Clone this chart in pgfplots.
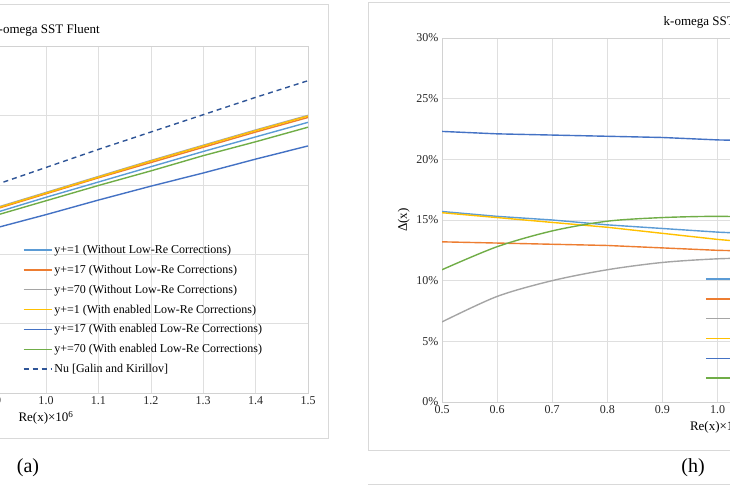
\documentclass[border=0pt]{standalone}
\usepackage{fontspec}
\setmainfont{Liberation Serif}
\usepackage{pgfplots}
\pgfplotsset{compat=1.18}
\definecolor{cLB}{HTML}{5B9BD5}
\definecolor{cOR}{HTML}{ED7D31}
\definecolor{cGR}{HTML}{A5A5A5}
\definecolor{cYE}{HTML}{FFC000}
\definecolor{cBL}{HTML}{4472C4}
\definecolor{cGN}{HTML}{70AD47}
\definecolor{cNU}{HTML}{2F5597}
\pgfplotsset{
  xl/.style={
    scale only axis, xmin=0.5, xmax=1.5, xtick={0.5,0.6,...,1.5},
    /pgf/number format/assume math mode=true,
    xticklabel style={/pgf/number format/.cd,fixed,fixed zerofill,precision=1},
    grid=major, major grid style={gray!25},
    axis line style={gray!35}, major tick length=0pt,
    tick label style={font=\fontsize{12}{14}\selectfont, text=black!85},
    label style={font=\fontsize{13}{15}\selectfont},
    title style={font=\fontsize{13}{15}\selectfont},
    every axis plot/.append style={line width=1.4pt},
    legend style={draw=none, fill=none, font=\fontsize{12}{14}\selectfont,
      row sep=6pt, anchor=north west, legend cell align=left},
    legend image code/.code={\draw[##1] (0pt,0pt) -- (28pt,0pt);},
  }
}
\begin{document}
\begin{tikzpicture}[x=1pt,y=1pt]
\useasboundingbox (0,0) rectangle (730,486);
\clip (0,0) rectangle (730,486);
\draw[gray!30] (-10,48) rectangle (328,482);
\draw[gray!30] (368,36) rectangle (1000,484);
\draw[gray!30] (368,2) -- (730,2);
\begin{axis}[xl, at={(-216pt,93pt)}, anchor=south west, width=524pt, height=347pt,
  ymin=0, ymax=5, ytick={0,1,...,5}, title={k-omega SST Fluent},
  xlabel={Re(x)×10\textsuperscript{6}},
  legend style={at={(rel axis cs:0.450,0.438)}}]
\addplot[cLB] coordinates {(0.5,1.62)(0.6,1.87)(0.7,2.12)(0.8,2.36)(0.9,2.59)(1.0,2.82)(1.1,3.04)(1.2,3.26)(1.3,3.48)(1.4,3.69)(1.5,3.90)};
\addlegendentry{y+=1 (Without Low-Re Corrections)}
\addplot[cOR] coordinates {(0.5,1.65)(0.6,1.91)(0.7,2.16)(0.8,2.40)(0.9,2.64)(1.0,2.87)(1.1,3.10)(1.2,3.32)(1.3,3.54)(1.4,3.76)(1.5,3.97)};
\addlegendentry{y+=17 (Without Low-Re Corrections)}
\addplot[cGR] coordinates {(0.5,1.66)(0.6,1.92)(0.7,2.17)(0.8,2.42)(0.9,2.66)(1.0,2.89)(1.1,3.12)(1.2,3.35)(1.3,3.57)(1.4,3.79)(1.5,4.00)};
\addlegendentry{y+=70 (Without Low-Re Corrections)}
\addplot[cYE] coordinates {(0.5,1.66)(0.6,1.92)(0.7,2.17)(0.8,2.41)(0.9,2.65)(1.0,2.88)(1.1,3.11)(1.2,3.34)(1.3,3.56)(1.4,3.78)(1.5,3.99)};
\addlegendentry{y+=1 (With enabled Low-Re Corrections)}
\addplot[cBL] coordinates {(0.5,1.48)(0.6,1.71)(0.7,1.94)(0.8,2.15)(0.9,2.37)(1.0,2.57)(1.1,2.78)(1.2,2.98)(1.3,3.17)(1.4,3.37)(1.5,3.56)};
\addlegendentry{y+=17 (With enabled Low-Re Corrections)}
\addplot[cGN] coordinates {(0.5,1.59)(0.6,1.84)(0.7,2.08)(0.8,2.32)(0.9,2.55)(1.0,2.77)(1.1,2.99)(1.2,3.20)(1.3,3.42)(1.4,3.62)(1.5,3.83)};
\addlegendentry{y+=70 (With enabled Low-Re Corrections)}
\addplot[cNU, dash pattern=on 5pt off 4pt] coordinates {(0.5,1.87)(0.6,2.16)(0.7,2.45)(0.8,2.72)(0.9,2.99)(1.0,3.25)(1.1,3.51)(1.2,3.76)(1.3,4.01)(1.4,4.26)(1.5,4.50)};
\addlegendentry{Nu [Galin and Kirillov]}
\end{axis}
\begin{axis}[xl, at={(442pt,84pt)}, anchor=south west, width=551pt, height=364pt,
  ymin=0, ymax=30, ytick={0,5,...,30}, yticklabel={\pgfmathprintnumber{\tick}\%},
  title={k-omega SST Fluent}, ylabel={Δ(x)},
  xlabel={Re(x)×10\textsuperscript{6}},
  legend style={at={(rel axis cs:0.472,0.363)}}]
\addplot[cLB] coordinates {(0.5,15.7)(0.6,15.3)(0.7,15.0)(0.8,14.6)(0.9,14.3)(1.0,14.0)(1.1,13.8)(1.2,13.6)(1.3,13.4)(1.4,13.2)(1.5,13.0)};
\addlegendentry{y+=1 (Without Low-Re Corrections)}
\addplot[cOR] coordinates {(0.5,13.2)(0.6,13.1)(0.7,13.0)(0.8,12.9)(0.9,12.7)(1.0,12.5)(1.1,12.4)(1.2,12.3)(1.3,12.2)(1.4,12.1)(1.5,12.0)};
\addlegendentry{y+=17 (Without Low-Re Corrections)}
\addplot[cGR, smooth] coordinates {(0.5,6.6)(0.6,8.7)(0.7,10.0)(0.8,10.9)(0.9,11.5)(1.0,11.8)(1.1,11.9)(1.2,12.0)(1.3,12.0)(1.4,12.0)(1.5,12.0)};
\addlegendentry{y+=70 (Without Low-Re Corrections)}
\addplot[cYE] coordinates {(0.5,15.6)(0.6,15.2)(0.7,14.8)(0.8,14.4)(0.9,13.9)(1.0,13.4)(1.1,13.0)(1.2,12.6)(1.3,12.2)(1.4,11.8)(1.5,11.4)};
\addlegendentry{y+=1 (With enabled Low-Re Corrections)}
\addplot[cBL] coordinates {(0.5,22.3)(0.6,22.1)(0.7,22.0)(0.8,21.9)(0.9,21.8)(1.0,21.6)(1.1,21.5)(1.2,21.4)(1.3,21.3)(1.4,21.1)(1.5,21.0)};
\addlegendentry{y+=17 (With enabled Low-Re Corrections)}
\addplot[cGN, smooth] coordinates {(0.5,10.9)(0.6,12.8)(0.7,14.1)(0.8,14.9)(0.9,15.2)(1.0,15.3)(1.1,15.2)(1.2,15.1)(1.3,15.0)(1.4,14.8)(1.5,14.6)};
\addlegendentry{y+=70 (With enabled Low-Re Corrections)}
\end{axis}
\node[font=\fontsize{20}{24}\selectfont] at (28,18) {(a)};
\node[font=\fontsize{20}{24}\selectfont] at (693,18) {(h)};
\end{tikzpicture}
\end{document}
